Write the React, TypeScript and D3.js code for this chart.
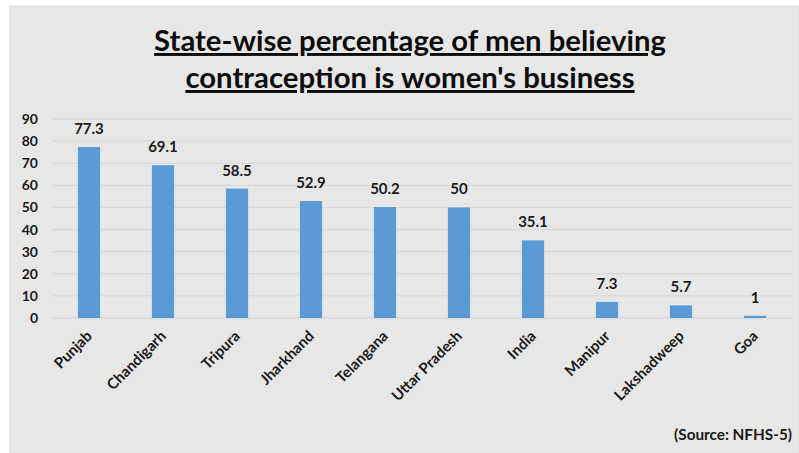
import React from "react";
import * as d3 from "d3";

const categories = ["Punjab", "Chandigarh", "Tripura", "Jharkhand", "Telangana", "Uttar Pradesh", "India", "Manipur", "Lakshadweep", "Goa"];
const values = [77.3, 69.1, 58.5, 52.9, 50.2, 50, 35.1, 7.3, 5.7, 1];
const yTicks = [0, 10, 20, 30, 40, 50, 60, 70, 80, 90];
const titleLines = ["State-wise percentage of men believing", "contraception is women's business"];
const sourceText = "(Source: NFHS-5)";

const W = 799;
const H = 453;
const FONT = "Lato, 'Open Sans', sans-serif";

export default function App() {
  const x = d3.scaleBand<string>().domain(categories).range([52, 792]).paddingInner(0.7).paddingOuter(0.35);
  const y = d3.scaleLinear().domain([0, 90]).range([318, 119]);
  const bw = x.bandwidth();

  return (
    <svg width={W} height={H} style={{ position: "absolute", left: 0, top: 0 }} fontFamily={FONT}>
      <rect x={0} y={0} width={W} height={H} fill="#ffffff" />
      <rect x={10} y={6} width={789} height={447} fill="#e7e7e7" stroke="#dcdcdc" strokeWidth={1} />
      {titleLines.map((t, i) => (
        <text key={i} x={410} y={51 + i * 37} textAnchor="middle" fontSize={29.3} fontWeight={700} fill="#0d0d0d" textDecoration="underline">
          {t}
        </text>
      ))}
      {yTicks.map((t) => (
        <g key={t}>
          <line x1={52} x2={792} y1={y(t)} y2={y(t)} stroke={t === 0 ? "#d0d0d0" : "#d6d6d6"} strokeWidth={1} />
          <text x={38} y={y(t)} dy="0.36em" textAnchor="end" fontSize={14} fontWeight={700} fill="#1a1a1a">
            {t}
          </text>
        </g>
      ))}
      {categories.map((c, i) => {
        const cx = (x(c) as number) + bw / 2;
        return (
          <g key={c}>
            <rect x={x(c)} y={y(values[i])} width={bw} height={y(0) - y(values[i])} fill="#5b9bd5" />
            <text x={cx} y={y(values[i]) - 13} textAnchor="middle" fontSize={15} fontWeight={700} fill="#1a1a1a">
              {values[i]}
            </text>
            <text
              transform={`translate(${cx + 4},${337}) rotate(-45)`}
              textAnchor="end"
              fontSize={15}
              fontWeight={700}
              fill="#1a1a1a"
            >
              {c}
            </text>
          </g>
        );
      })}
      <text x={792} y={440} textAnchor="end" fontSize={15.3} fontWeight={700} fill="#1a1a1a">
        {sourceText}
      </text>
    </svg>
  );
}
